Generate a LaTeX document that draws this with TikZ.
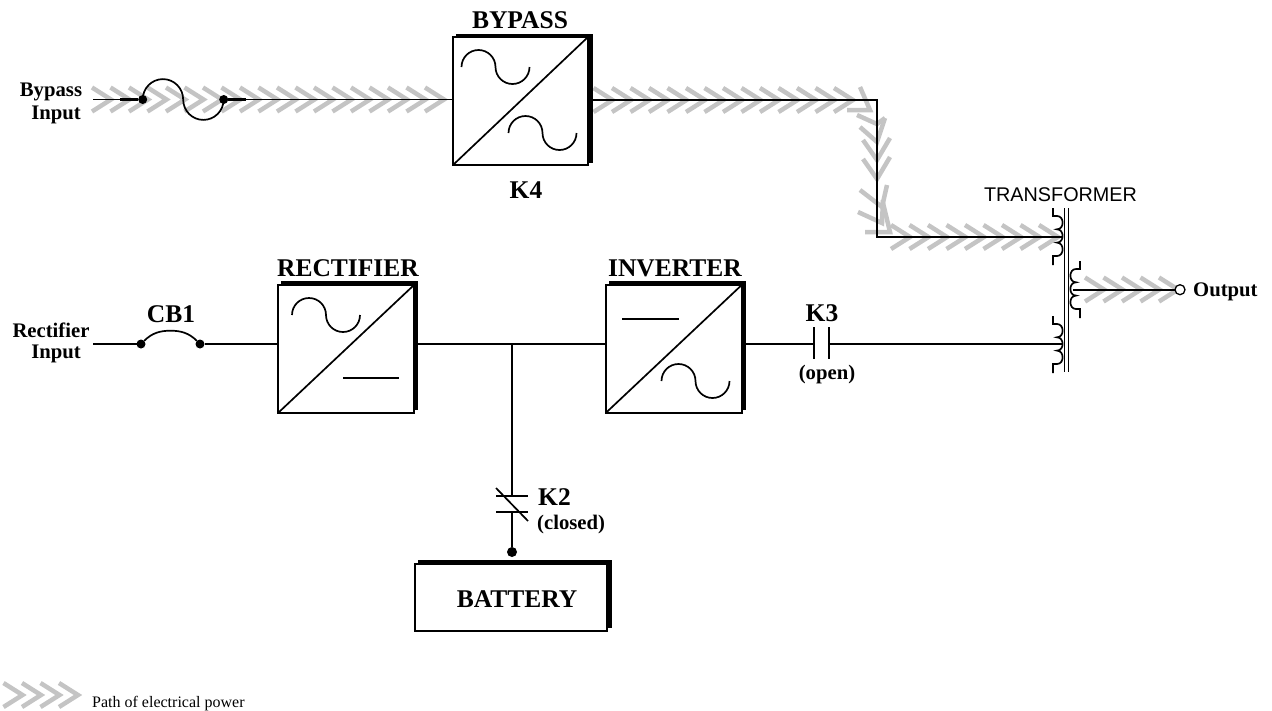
\documentclass[tikz,border=0pt]{standalone}
\usepackage{fontspec}
\setmainfont{Liberation Serif}
\newfontfamily\arialfont{Liberation Sans}
\definecolor{pathgray}{HTML}{C4C4C4}
\newcommand{\bigfnt}{\bfseries\fontsize{25.5}{27}\selectfont}
\newcommand{\smallfnt}{\bfseries\fontsize{20.7}{21}\selectfont}
\tikzset{
  x=1pt,y=-1pt,
  wire/.style={line width=1.7pt,black},
  thickwire/.style={line width=2.6pt,black},
  chev/.style={line width=4.5pt,pathgray,miter limit=10},
  convbox/.style={draw,line width=1.7pt,fill=white,inner sep=0,outer sep=0},
  shadowfill/.style={fill=black},
  dot/.style={circle,fill=black,inner sep=0,outer sep=0,minimum size=9pt},
  bigtext/.style={inner sep=0,font=\bigfnt},
  smalltext/.style={inner sep=0,font=\smallfnt,align=center},
  ac/.pic={\draw[wire] (0,0) .. controls (0,-9.4) and (7.6,-17) .. (17,-17) .. controls (26.4,-17) and (34,-9.4) .. (34,0) .. controls (34,9.4) and (41.6,17) .. (51,17) .. controls (60.4,17) and (68,9.4) .. (68,0);},
  coil/.pic={\draw[wire] (0,0) -- (0,8) -- (4,8)
     .. controls (11.5,8) and (11.5,21.3) .. (4,21.3)
     .. controls (11.5,21.3) and (11.5,34.6) .. (4,34.6)
     .. controls (11.5,34.6) and (11.5,48) .. (4,48) -- (0,48) -- (0,57);},
}
\newcommand{\chevAt}[3]{\draw[chev,shift={(#1,#2)},rotate=#3] (-19,-12) -- (0,0) -- (-19,12);}
\begin{document}
\begin{tikzpicture}
\useasboundingbox (0,0) rectangle (1272,710);
% --- power path chevrons
\foreach \k in {0,...,18} {\chevAt{111+18.5*\k}{99.5}{0}}
\foreach \k in {0,...,13} {\chevAt{853-18.5*\k}{100}{0}}
\draw[chev] (860,87) -- (870,110) -- (847,110);
\draw[chev] (857,115) -- (877,124) -- (885,118);
\draw[chev] (860,127) -- (877,142) -- (885,118);
\draw[chev] (863,140) -- (877,160) -- (890,138);
\draw[chev] (863,159) -- (877,179) -- (890,157);
\draw[chev] (860,190) -- (882,207) -- (887,185);
\draw[chev] (858,212) -- (882,223) -- (883,200);
\draw[chev] (865,232) -- (890,232) -- (883,203);
\foreach \k in {0,...,8} {\chevAt{910+18.5*\k}{237}{0}}
\foreach \k in {0,...,4} {\chevAt{1178-18.5*\k}{289.5}{0}}
\foreach \k in {0,...,3} {\chevAt{22.5+18.5*\k}{695}{0}}
% --- shadows
\fill[shadowfill] (456,33.5) rectangle (593,38);
\fill[shadowfill] (588,33.5) rectangle (593,163);
\fill[shadowfill] (281,281) rectangle (418,286);
\fill[shadowfill] (413,281) rectangle (418,410);
\fill[shadowfill] (609,281) rectangle (746,286);
\fill[shadowfill] (741,281) rectangle (746,410);
\fill[shadowfill] (418,560) rectangle (612,565);
\fill[shadowfill] (607,560) rectangle (612,628);
% --- boxes
\node[convbox,minimum width=135pt,minimum height=128pt] (bypass) at (520.5,101) {};
\node[convbox,minimum width=136pt,minimum height=128pt] (rect) at (346,349) {};
\node[convbox,minimum width=136pt,minimum height=128pt] (inv) at (673.7,349) {};
\node[convbox,minimum width=192pt,minimum height=67pt] (bat) at (511,597.5) {};
\draw[wire] (bypass.south west) -- (bypass.north east);
\draw[wire] (rect.south west) -- (rect.north east);
\draw[wire] (inv.south west) -- (inv.north east);
\pic at (461.5,67) {ac};
\pic at (508.5,133) {ac};
\pic at (292,315) {ac};
\pic at (661.5,381) {ac};
\coordinate (rdcA) at (343,378);
\coordinate (rdcB) at (399,378);
\coordinate (idcA) at (622,319);
\coordinate (idcB) at (679,319);
\draw[wire] (rdcA) -- (rdcB);
\draw[wire] (idcA) -- (idcB);
% --- bypass line
\coordinate (bypIn) at (93,99.5);
\coordinate (bypT1) at (120,99.5);
\coordinate (bypT2) at (246,99.5);
\node[dot] (f1) at (142.7,99.5) {};
\node[dot] (f2) at (223.7,99.5) {};
\draw[wire] (bypIn) -- (bypT1);
\draw[thickwire] (bypT1) -- (f1);
\draw[thickwire] (f2) -- (bypT2);
\draw[wire] (bypT2) -- (bypass.west |- bypT2);
\pic[xscale=1.19,yscale=1.2] at (142.7,99.5) {ac};
\coordinate (cornerA) at (877.3,100);
\coordinate (cornerB) at (877.3,236.7);
\coordinate (coilA) at (1062,236.7);
\coordinate (bypOut) at (593,100);
\draw[wire] (bypOut) -- (cornerA) -- (cornerB) -- (coilA);
% --- rectifier line
\coordinate (recIn) at (93,344);
\node[dot] (cb1) at (141,344) {};
\node[dot] (cb2) at (200,344) {};
\draw[wire] (recIn) -- (cb1);
\draw[wire] (cb2) -- (rect.west |- cb2);
\draw[wire] (cb1) .. controls (152,333) and (160,330.7) .. (170.5,330.7) .. controls (181,330.7) and (189,333) .. (cb2);
\coordinate (dcJ) at (512,344);
\coordinate (dcR) at (418,344);
\coordinate (dcI) at (605.7,344);
\draw[wire] (dcR) -- (dcI);
% --- K3
\coordinate (k3a) at (814,344);
\coordinate (k3b) at (829.3,344);
\coordinate (invOut) at (746,344);
\coordinate (coilB) at (1062,344);
\draw[wire] (invOut) -- (k3a);
\draw[wire] (k3b) -- (coilB);
\draw[wire] (814,327) -- (814,359);
\draw[wire] (829.3,327) -- (829.3,359);
% --- K2 and battery
\coordinate (k2t) at (512,496);
\coordinate (k2b) at (512,512);
\node[dot,minimum size=10pt] (batdot) at (512,552) {};
\draw[wire] (dcJ) -- (k2t);
\draw[wire] (k2b) -- (batdot);
\draw[wire] (496,496) -- (528,496);
\draw[wire] (496,512) -- (528,512);
\draw[wire] (496,488) -- (528,521);
% --- transformer
\pic at (1053,208) {coil};
\pic at (1053,316) {coil};
\pic[xscale=-1] at (1080,261) {coil};
\draw[line width=1.3pt] (1064.3,208) -- (1064.3,372);
\draw[line width=1.3pt] (1068.3,208) -- (1068.3,372);
\node[circle,draw,line width=1.3pt,fill=white,inner sep=0,outer sep=0,minimum size=10pt] (out) at (1180,289.7) {};
\coordinate (coilC) at (1073,289.7);
\draw[wire] (coilC) -- (out);
% --- labels
\node[bigtext] (tBypass) at (520,20) {BYPASS};
\node[bigtext] (tK4) at (526,190) {K4};
\node[bigtext] (tRect) at (348,268) {RECTIFIER};
\node[bigtext] (tInv) at (675,268) {INVERTER};
\node[bigtext] (tBat) at (517,599) {BATTERY};
\node[bigtext] (tCB) at (171,314) {CB1};
\node[bigtext] (tK3) at (822,313) {K3};
\node[bigtext,anchor=west] (tK2) at (538,497) {K2};
\node[smalltext] (tOpen) at (827,375) {(open)};
\node[smalltext,anchor=west] (tClosed) at (537,525) {(closed)};
\node[smalltext,anchor=west] (tOut) at (1193,292) {Output};
\node[smalltext] (tBypIn) at (51,103) {Bypass\\[2pt]Input\kern-10pt};
\node[smalltext] (tRecIn) at (51,343) {Rectifier\\Input\kern-10pt};
\node[inner sep=0,font=\arialfont\fontsize{19.8}{21}\selectfont] (tTr) at (1060.5,195) {TRANSFORMER};
\node[inner sep=0,anchor=west,font=\fontsize{16}{18}\selectfont] (tLeg) at (92,704) {Path of electrical power};
\end{tikzpicture}
\end{document}
